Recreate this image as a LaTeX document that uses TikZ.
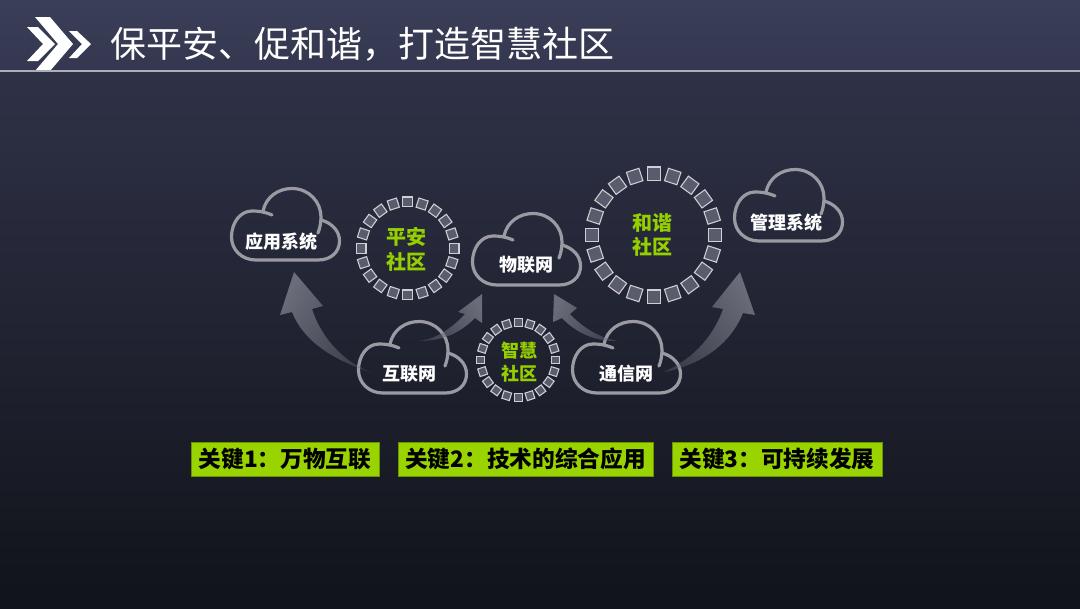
\documentclass[tikz,border=0pt]{standalone}
\usepackage{fontspec}
\setmainfont{Noto Sans CJK SC}
\usepackage{tikz}
\usetikzlibrary{calc,positioning,fadings}
\definecolor{bandtop}{HTML}{3A3E58}
\definecolor{bandbottom}{HTML}{34374F}
\definecolor{bgtop}{HTML}{2F3247}
\definecolor{bgbottom}{HTML}{11131A}
\definecolor{keygreen}{HTML}{99D300}
\definecolor{ringgreen}{HTML}{95CF00}
\definecolor{cloudgray}{HTML}{9A9AA3}
\definecolor{arrowgray}{HTML}{6A6C7A}
\definecolor{squarefill}{HTML}{5A5C6E}
\definecolor{squareline}{HTML}{CFCFD4}
\newcommand{\fwcomma}{\char"FF0C\relax}
\newcommand{\fwcolon}{\char"FF1A\relax}
\tikzfading[name=tailfade, left color=transparent!0, middle color=transparent!0, right color=transparent!60]

\begin{document}
\begin{tikzpicture}[x=.75pt,y=-.75pt,
    cloud/.pic = {
        % drawn from the top left corner of the cloud
        \draw[cloudgray,line width=2.4pt,line cap=round]
            (42,28) .. controls (34,24.5) and (28,24) .. (22,24)
            .. controls (10,24) and (1.5,36) .. (1.5,50)
            .. controls (1.5,63) and (12,73) .. (26,73)
            -- (88,73)
            .. controls (101,73) and (109.5,65) .. (109.5,54)
            .. controls (109.5,44) and (102,36) .. (91,33);
        \draw[cloudgray,line width=2.4pt,line cap=round]
            (33,24) .. controls (36,10) and (48,1.5) .. (62,1.5)
            .. controls (79,1.5) and (91,15) .. (91,30)
            .. controls (91,35) and (90,41) .. (88,46);
    },
    sq/.style = {draw=squareline,fill=squarefill,line width=.8pt,inner sep=0pt,outer sep=0pt},
    cloudtxt/.style = {text=white,font=\bfseries\fontsize{13.5}{16}\selectfont,inner sep=0pt},
    ringtxt/.style = {text=ringgreen,font=\bfseries\fontsize{15}{18.5}\selectfont,align=center,inner sep=0pt},
    keybox/.style = {fill=keygreen,draw=keygreen!70!black,line width=.4pt,text=black,inner sep=0pt,
        font=\bfseries\fontsize{17}{20}\selectfont,minimum height=25.5pt},
    bigarrow/.style = {fill=arrowgray,draw=none,path fading=tailfade,fading angle=#1}]
    \fill[top color=bgtop,bottom color=bgbottom] (0,71) rectangle (1080,608);
    \fill[top color=bandtop,bottom color=bandbottom] (0,0) rectangle (1080,71);
    \useasboundingbox (0,0) rectangle (1080,608);
    % header
    \fill[white] (35,17) -- (50,17) -- (73,44) -- (50,71) -- (35,71) -- (58,44) -- cycle;
    \fill[white] (27,27) -- (38,27) -- (55,44) -- (38,61) -- (27,61) -- (43,44) -- cycle;
    \fill[white] (69,31) -- (77,31) -- (91,44) -- (77,58) -- (69,58) -- (82,44) -- cycle;
    \draw[cloudgray!80!white,line width=1.1pt] (0,71) -- (1080,71);
    \node[text=white,anchor=west,inner sep=0pt,font=\fontsize{27}{32}\selectfont] (title) at (110,44) {保平安、促和谐\fwcomma 打造智慧社区};
    % clouds
    \pic at (230,187) {cloud};
    \pic at (357,320) {cloud};
    \pic at (471,212) {cloud};
    \pic at (571,320) {cloud};
    \pic at (733,168) {cloud};
    \node[cloudtxt] (app) at (281,242) {应用系统};
    \node[cloudtxt] (inet) at (409,374) {互联网};
    \node[cloudtxt] (iot) at (526,265) {物联网};
    \node[cloudtxt] (comm) at (626,374) {通信网};
    \node[cloudtxt] (mgmt) at (786,223) {管理系统};
    % arrows
    \coordinate (a1) at (370,372);
    \coordinate (a2) at (418,341);
    \coordinate (a3) at (618,341);
    \coordinate (a4) at (664,372);
    \fill[bigarrow=-35] (a1) .. controls (340,362) and (305,345) .. (292,312) -- (280,315) -- (294,272) -- (323,306) -- (312,309)
        .. controls (322,340) and (345,362) .. (a1) -- cycle;
    \fill[bigarrow=205] (a2) .. controls (435,340) and (452,328) .. (465,314) -- (458,312) -- (482,294) -- (482,323) -- (475,318)
        .. controls (458,335) and (440,341) .. (a2) -- cycle;
    \fill[bigarrow=-25] (a3) .. controls (600,338) and (583,328) .. (570,314) -- (577,308) -- (554,294) -- (553,322) -- (562,318)
        .. controls (575,332) and (595,342) .. (a3) -- cycle;
    \fill[bigarrow=215] (a4) .. controls (690,360) and (712,340) .. (723,309) -- (712,307) -- (740,272) -- (755,315) -- (743,313)
        .. controls (730,345) and (700,365) .. (a4) -- cycle;
    % rings
    \foreach \cx/\cy/\rad/\sz in {407.7/248.3/46.5/7.2pt, 518.3/360/37.5/5.9pt, 653.7/235/61.5/9.8pt}{
        \foreach \i in {1,...,20}{
            \node[sq,minimum size=\sz,rotate=-18*\i] (s\i) at ($(\cx,\cy)+(18*\i:\rad)$) {};
        }
    }
    \node[ringtxt] (r1) at (406,249) {平安\\社区};
    \node[ringtxt,font=\bfseries\fontsize{13.5}{17}\selectfont] (r2) at (519,362) {智慧\\社区};
    \node[ringtxt] (r3) at (652,235) {和谐\\社区};
    % keys
    \node[keybox,minimum width=141pt] (k1) at (285,459) {关键1\fwcolon 万物互联};
    \node[keybox,minimum width=191pt] (k2) at (525.5,459) {关键2\fwcolon 技术的综合应用};
    \node[keybox,minimum width=157.5pt] (k3) at (777,459) {关键3\fwcolon 可持续发展};
\end{tikzpicture}
\end{document}
